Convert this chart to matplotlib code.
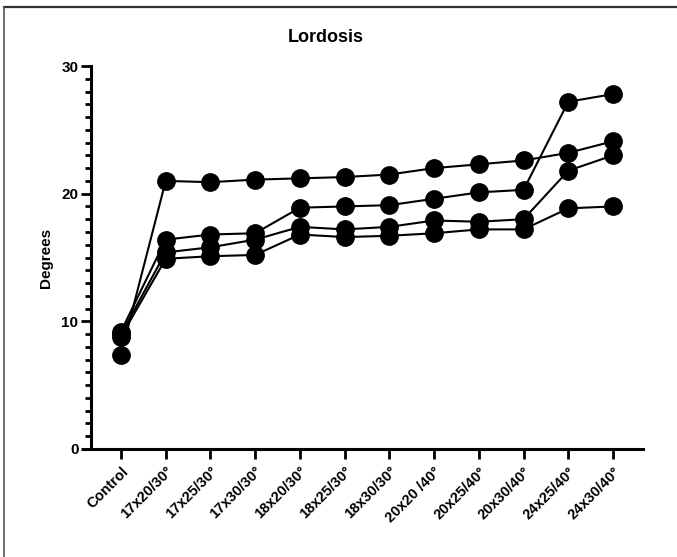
import matplotlib
matplotlib.use("Agg")
import matplotlib.pyplot as plt
from matplotlib.lines import Line2D
from matplotlib.ticker import MultipleLocator

plt.rcParams['font.family'] = ['Liberation Sans', 'DejaVu Sans']

categories = ["Control", "17x20/30°", "17x25/30°", "17x30/30°", "18x20/30°", "18x25/30°",
              "18x30/30°", "20x20 /40°", "20x25/40°", "20x30/40°", "24x25/40°", "24x30/40°"]

series_1 = [7.4, 21.0, 20.9, 21.1, 21.2, 21.3, 21.5, 22.0, 22.3, 22.6, 23.2, 24.1]
series_2 = [9.2, 16.4, 16.8, 16.9, 18.9, 19.0, 19.1, 19.6, 20.1, 20.3, 27.2, 27.8]
series_3 = [9.0, 15.4, 15.8, 16.4, 17.4, 17.2, 17.4, 17.9, 17.8, 18.0, 21.8, 23.0]
series_4 = [8.8, 14.9, 15.1, 15.2, 16.8, 16.6, 16.7, 16.9, 17.2, 17.2, 18.85, 19.0]

fig = plt.figure(figsize=(6.77, 5.57), dpi=100)
ax = fig.add_axes([91/677, 1 - 449/557, (643 - 91)/677, (449 - 66)/557])

x = list(range(len(categories)))
for s in [series_1, series_2, series_3, series_4]:
    ax.plot(x, s, color='black', lw=1.5, marker='o', markersize=12.5,
            markerfacecolor='black', markeredgecolor='black', clip_on=False, zorder=3)

ax.set_xlim(-0.67, 11.67)
ax.set_ylim(0, 30)
ax.set_xticks(x)
ax.set_xticklabels(categories, rotation=45, ha='right', va='top',
                   rotation_mode='anchor', fontsize=10.5, fontweight='bold')
ax.yaxis.set_major_locator(MultipleLocator(10))
ax.yaxis.set_minor_locator(MultipleLocator(1))
for lab in ax.get_yticklabels():
    lab.set_fontweight('bold')
    lab.set_fontsize(11)

ax.tick_params(axis='y', which='major', length=7, width=2, direction='out', pad=2)
ax.tick_params(axis='y', which='minor', length=4, width=2, direction='out')
ax.tick_params(axis='x', which='major', length=7, width=2, direction='out', pad=4)

for sp in ['top', 'right']:
    ax.spines[sp].set_visible(False)
for sp in ['left', 'bottom']:
    ax.spines[sp].set_linewidth(2.2)
ax.spines['bottom'].set_bounds(-0.85, 11.67)

ax.set_ylabel("Degrees", fontsize=11, fontweight='bold', labelpad=6)
fig.text(326/677, 1 - 37/557, "Lordosis", fontsize=13, fontweight='bold',
         ha='center', va='center')

# figure frame (top and left only)
fig.add_artist(Line2D([4/677, 1.0], [1 - 6.5/557, 1 - 6.5/557], transform=fig.transFigure,
                      color='#333333', lw=1.6))
fig.add_artist(Line2D([4/677, 4/677], [0, 1 - 6.5/557], transform=fig.transFigure,
                      color='#555555', lw=1.2))

fig.savefig("out.png", dpi=100)
